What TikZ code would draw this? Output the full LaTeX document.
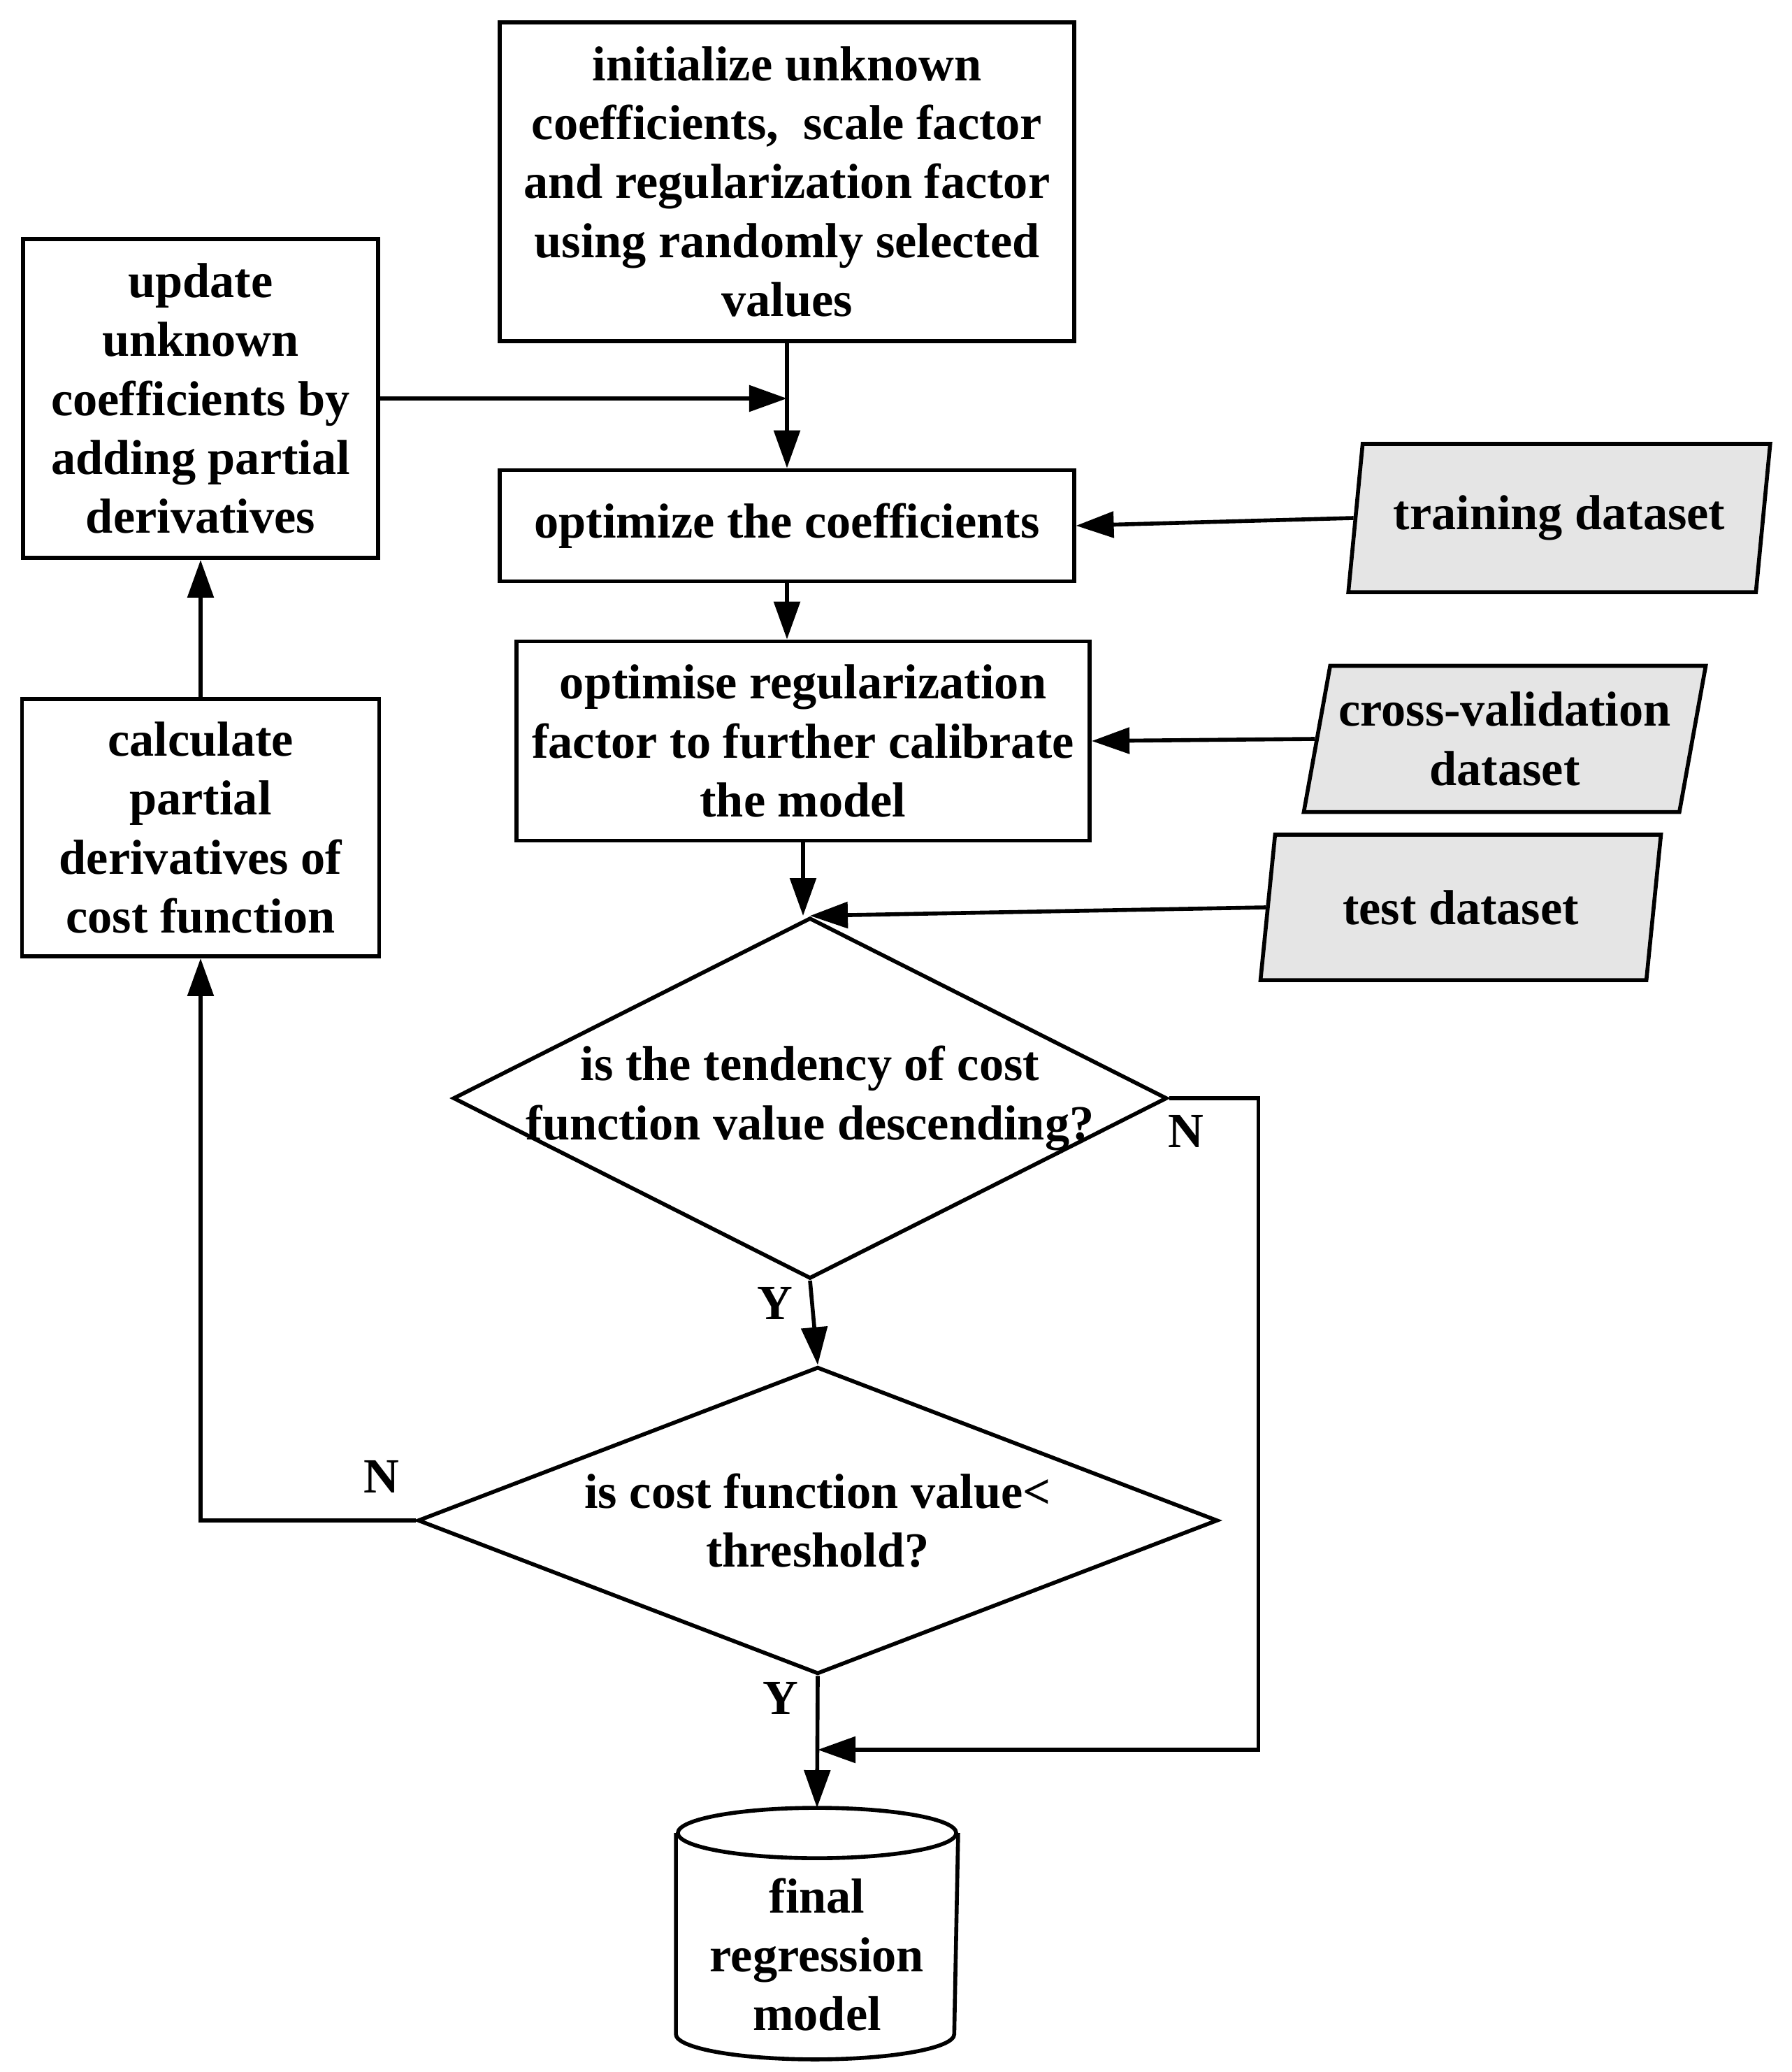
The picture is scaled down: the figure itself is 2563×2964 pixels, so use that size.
\documentclass[tikz,border=0pt]{standalone}
\usepackage{fontspec}
\setmainfont{Liberation Serif}
\usetikzlibrary{arrows.meta,shapes.geometric,calc}

\begin{document}
\begin{tikzpicture}[x=0.01cm, y=-0.01cm, line width=1.6pt,
        every node/.style={font=\bfseries\fontsize{20}{24}\selectfont, inner sep=0pt}]
        \tikzset{
            procbox/.style={draw, align=center},
            databox/.style={draw, fill=gray!20, align=center, trapezium, trapezium left angle=75,
                trapezium right angle=105, trapezium stretches=true},
            decision/.style={draw, diamond},
            storebox/.style={align=center},
            arr/.style={-{Triangle[length=5.4mm, width=3.7mm]}}
        }
        \useasboundingbox (0,0) rectangle (2563,2964);

        \node[procbox, minimum width=8.21cm, minimum height=4.56cm] (init) at (1126,260)
            {initialize unknown\\coefficients,\ \ scale factor\\and regularization factor\\using randomly selected\\values};
        \node[procbox, minimum width=5.08cm, minimum height=4.56cm] (update) at (287,570)
            {update\\unknown\\coefficients by\\adding partial\\derivatives};
        \node[procbox, minimum width=8.21cm, minimum height=1.59cm] (opt) at (1126,752)
            {optimize the coefficients};
        \node[procbox, minimum width=8.20cm, minimum height=2.85cm] (optreg) at (1149,1060)
            {optimise regularization\\factor to further calibrate\\the model};
        \node[procbox, minimum width=5.11cm, minimum height=3.68cm] (calc) at (287,1184)
            {calculate\\partial\\derivatives of\\cost function};

        \node[databox, minimum width=6.04cm, minimum height=2.12cm] (train) at (2231,741) {training dataset};
        \node[databox, minimum width=5.75cm, minimum height=2.09cm] (cross) at (2153,1057) {cross-validation\\dataset};
        \node[databox, minimum width=5.73cm, minimum height=2.08cm] (test) at (2090,1298) {test dataset};

        \node[decision, minimum width=10.21cm, minimum height=5.16cm,
            label={[align=center]center:{is the tendency of cost\\function value descending?}}] (dia1) at (1159,1571) {};
        \node[decision, minimum width=11.44cm, minimum height=4.39cm,
            label={[align=center]center:{is cost function value<\\threshold?}}] (dia2) at (1170,2175) {};

        % final model drawn as a cylinder round its body node
        \node[storebox, minimum width=3.98cm, minimum height=2.82cm,
            label={[align=center, yshift=-0.3cm]center:{final\\regression\\model}}] (final) at (1169,2766) {};
        \draw (final.north) ellipse [x radius=1.99cm, y radius=0.36cm];
        \draw (final.north west) -- (final.south west)
            arc[start angle=180, end angle=360, x radius=1.99cm, y radius=0.36cm] -- (final.north east);

        \coordinate (join) at (1170,2503);

        \draw[arr] (init.south) -- (opt.north);
        \draw[arr] (update.east) -- (update.east -| opt.north);
        \draw[arr] (opt.south) -- (opt.south |- optreg.north);
        \draw[arr] (train.west) -- (opt.east);
        \draw[arr] (cross.west) -- (optreg.east);
        \draw[arr] (optreg.south) -- (optreg.south |- dia1.north);
        \draw[arr] (test.west) -- (dia1.north);
        \draw[arr] (dia1.south) -- node[pos=0, xshift=-0.5cm, yshift=-0.32cm]{Y} (dia2.north);
        \draw[arr] (dia1.east) -- node[pos=0, xshift=0.24cm, yshift=-0.47cm]{N} ++(128,0) |- (join);
        \draw[arr] (dia2.west) -- node[pos=0, xshift=-0.49cm, yshift=0.63cm]{N} (dia2.west -| calc.south) -- (calc.south);
        \draw[arr] (dia2.south) -- node[pos=0, xshift=-0.53cm, yshift=-0.32cm]{Y} ([yshift=0.36cm]final.north);
        \draw[arr] (calc.north) -- (update.south);
    \end{tikzpicture}
\end{document}
